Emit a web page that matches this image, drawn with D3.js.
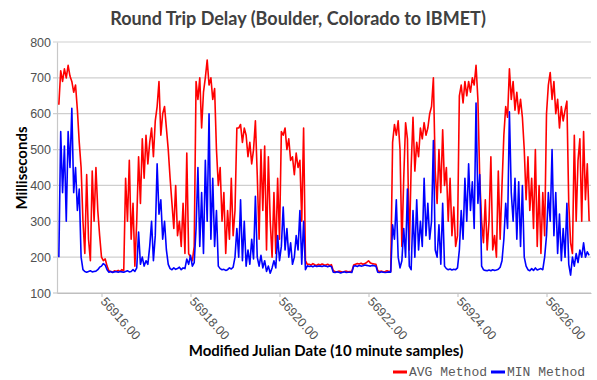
<!DOCTYPE html>
<html>
<head>
<meta charset="utf-8">
<script src="https://cdn.jsdelivr.net/npm/d3@7"></script>
<style>
  body { margin: 0; background: #fff; }
  svg { display: block; }
</style>
</head>
<body>
<svg id="chart" width="597" height="380"></svg>
<script>
// hourly readings (ms), first one at MJD 56915 + 1h
var startMJD = 56915 + 1 / 24;
var stepDays = 1 / 24;

var avgMethod = [
  625,720,690,725,700,735,705,690,660,680,
  610,520,450,300,210,430,250,190,440,300,
  450,330,260,200,190,195,175,162,160,158,
  162,160,163,160,165,162,420,300,470,250,
  350,175,300,480,350,530,420,540,460,520,
  560,480,580,620,690,540,600,620,560,500,
  420,350,280,400,260,300,230,350,210,490,
  210,200,190,230,690,640,700,560,660,700,
  750,680,700,640,670,500,400,450,300,380,
  210,330,250,420,260,330,560,560,570,520,
  560,540,480,520,460,500,580,430,250,500,
  330,510,220,480,300,200,380,210,420,250,
  550,540,560,500,530,470,480,430,490,450,
  470,300,560,190,180,180,178,182,179,177,
  180,178,181,179,178,180,177,179,162,160,
  159,161,160,158,160,161,159,160,160,178,
  180,182,181,183,180,182,185,190,184,182,
  181,180,162,160,161,159,160,162,160,161,
  520,570,540,580,500,230,420,575,530,220,
  450,590,440,520,480,560,530,575,540,560,
  600,620,700,440,350,500,380,555,400,450,
  300,420,260,340,230,260,650,680,630,690,
  650,690,660,700,680,735,640,420,300,240,
  360,220,300,480,220,260,200,440,250,400,
  540,620,590,725,640,690,610,660,600,640,
  590,500,360,480,330,420,280,500,230,400,
  210,380,260,600,680,715,640,690,600,640,
  560,620,580,610,635,350,240,210,540,300,
  470,530,300,550,360,460,300
];

var minMethod = [
  200,550,380,510,300,550,450,615,380,450,
  330,390,200,165,160,158,160,162,159,160,
  161,165,172,175,182,178,165,158,160,157,
  159,160,158,160,159,158,160,162,159,160,
  165,160,170,270,180,200,175,190,180,230,
  300,190,260,460,320,360,250,300,220,180,
  168,165,170,166,168,172,165,170,168,195,
  180,205,175,185,280,450,230,380,210,470,
  300,600,250,420,230,330,175,168,165,166,
  163,165,170,167,172,200,280,200,360,190,
  300,175,220,180,250,195,370,200,175,205,
  170,190,160,175,155,170,190,170,260,190,
  230,340,220,280,200,240,180,200,260,220,
  330,180,300,165,176,174,175,173,176,174,
  175,175,174,176,175,173,175,174,158,157,
  159,158,156,158,159,157,158,158,157,175,
  176,174,177,175,176,178,177,176,175,177,
  176,175,158,157,159,158,157,158,159,158,
  290,250,360,200,170,190,280,200,390,175,
  165,330,200,360,220,300,230,420,260,350,
  250,300,525,220,200,290,180,350,175,168,
  165,167,164,166,165,170,220,330,250,420,
  300,460,330,410,280,630,350,430,175,165,
  163,162,164,162,165,163,164,166,172,190,
  250,350,280,605,380,300,420,250,410,230,
  400,200,175,165,162,168,163,170,164,166,
  168,165,200,260,380,300,500,260,380,210,
  320,190,280,200,350,180,150,200,175,210,
  185,220,200,240,200,215,205
];

var xTicks = [56916, 56918, 56920, 56922, 56924, 56926];
var yTicks = [100, 200, 300, 400, 500, 600, 700, 800];
var seriesNames = ["AVG Method", "MIN Method"];
var seriesColors = ["#ff0000", "#0000ff"];

var svg = d3.select("#chart");
var plotL = 57, plotR = 591, plotT = 42, plotB = 293;

var x = d3.scaleLinear().domain([56915, 56927]).range([plotL, plotR]);
var y = d3.scaleLinear().domain([100, 800]).range([plotB, plotT]);

// title
svg.append("text")
  .attr("x", 298).attr("y", 25)
  .attr("text-anchor", "middle")
  .style("font-family", "Lato, 'Open Sans', sans-serif")
  .style("font-weight", "bold")
  .style("font-size", "18px")
  .attr("fill", "#404040")
  .text("Round Trip Delay (Boulder, Colorado to IBMET)");

// grid
svg.append("g")
  .selectAll("line")
  .data(yTicks)
  .enter().append("line")
  .attr("x1", plotL - 4).attr("x2", plotR)
  .attr("y1", d => y(d)).attr("y2", d => y(d))
  .attr("stroke", d => d === 100 ? "#bfbfbf" : "#cfcfcf")
  .attr("stroke-width", 1.2);

// y axis
var yAxis = svg.append("g")
  .attr("transform", `translate(${plotL},0)`)
  .call(d3.axisLeft(y).tickValues(yTicks).tickSize(0).tickPadding(6));
yAxis.select(".domain").attr("stroke", "#c8c8c8").attr("stroke-width", 1.2);
yAxis.selectAll("text")
  .style("font-family", "'Liberation Sans', Arial, sans-serif")
  .style("font-size", "12.5px")
  .attr("fill", "#505050");

// x axis
var xAxis = svg.append("g")
  .attr("transform", `translate(0,${plotB})`)
  .call(d3.axisBottom(x).tickValues(xTicks).tickFormat(d3.format(".2f")).tickSize(4).tickSizeOuter(0));
xAxis.select(".domain").attr("stroke", "#bfbfbf").attr("stroke-width", 1.2);
xAxis.selectAll(".tick line").attr("stroke", "#bfbfbf");
xAxis.selectAll("text")
  .style("font-family", "'Liberation Sans', Arial, sans-serif")
  .style("font-size", "12.5px")
  .attr("fill", "#505050")
  .attr("text-anchor", "start")
  .attr("x", 0).attr("y", 0).attr("dy", "0")
  .attr("transform", "translate(-2,9) rotate(48)");

// axis titles
svg.append("text")
  .attr("transform", "translate(27,168) rotate(-90)")
  .attr("text-anchor", "middle")
  .style("font-family", "Lato, 'Open Sans', sans-serif")
  .style("font-weight", "bold")
  .style("font-size", "15px")
  .attr("fill", "#000")
  .text("Milliseconds");

svg.append("text")
  .attr("x", 326).attr("y", 356)
  .attr("text-anchor", "middle")
  .style("font-family", "Lato, 'Open Sans', sans-serif")
  .style("font-weight", "bold")
  .style("font-size", "15px")
  .attr("fill", "#000")
  .text("Modified Julian Date (10 minute samples)");

// series
var line = d3.line()
  .x((d, i) => x(startMJD + i * stepDays))
  .y(d => y(d));

[avgMethod, minMethod].forEach(function (vals, k) {
  svg.append("path")
    .datum(vals)
    .attr("fill", "none")
    .attr("stroke", seriesColors[k])
    .attr("stroke-width", 1.6)
    .attr("stroke-linejoin", "round")
    .attr("d", line);
});

// legend
var legend = svg.append("g").attr("transform", "translate(393,372)");
var lx = 0;
seriesNames.forEach(function (name, k) {
  legend.append("line")
    .attr("x1", lx).attr("x2", lx + 14)
    .attr("y1", 0).attr("y2", 0)
    .attr("stroke", seriesColors[k]).attr("stroke-width", 3);
  var t = legend.append("text")
    .attr("x", lx + 16).attr("y", 4)
    .style("font-family", "'Liberation Mono', 'DejaVu Sans Mono', monospace")
    .style("font-size", "13px")
    .attr("fill", "#595959")
    .text(name);
  lx += 16 + t.node().getComputedTextLength() + 4;
});
</script>
</body>
</html>
